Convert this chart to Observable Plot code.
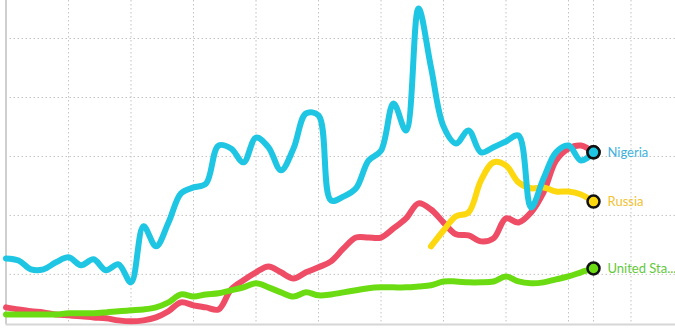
<!DOCTYPE html>
<html>
<head>
<meta charset="utf-8">
<script src="https://cdn.jsdelivr.net/npm/d3@7"></script>
<script src="https://cdn.jsdelivr.net/npm/@observablehq/plot@0.6"></script>
<style>
  html, body { margin: 0; padding: 0; background: #fff; }
  #chart svg { display: block; }
</style>
</head>
<body>
<div id="chart"></div>
<script>
const years = [1960,1961,1962,1963,1964,1965,1966,1967,1968,1969,
  1970,1971,1972,1973,1974,1975,1976,1977,1978,1979,
  1980,1981,1982,1983,1984,1985,1986,1987,1988,1989,
  1990,1991,1992,1993,1994,1995,1996,1997,1998,1999,
  2000,2001,2002,2003,2004,2005,2006,2007];

const nigeria = [25.4,24.7,21.7,21.7,24.1,25.8,23.1,25.1,21.4,23.4,
  17.3,36.3,29.5,37.6,47.5,49.5,50.8,63.7,62.7,58.0,
  66.4,63.1,55.3,62.7,74.6,73.9,45.1,46.4,49.2,58.6,
  62.0,78.0,68.8,110.2,90.2,70.2,64.4,68.8,61.4,63.1,
  65.1,67.1,42.7,52.5,61.4,63.7,58.6,61.4];

const redSeries = [8.8,8.1,7.5,7.1,6.4,6.1,5.8,5.4,5.1,4.4,
  4.1,4.4,5.4,7.5,10.5,9.5,8.8,8.1,14.9,18.0,
  20.7,22.7,20.7,18.6,20.7,22.4,24.4,28.8,32.5,32.5,
  32.5,35.6,39.0,44.1,42.0,37.6,33.6,33.2,31.2,32.2,
  39.0,37.6,41.0,47.8,58.6,62.7,63.7,61.4];

const usa = [6.4,6.4,6.4,6.4,6.4,6.8,6.8,6.8,7.1,7.5,
  7.8,8.1,8.8,10.5,13.2,12.5,13.2,13.6,14.6,15.6,
  17.0,15.6,13.9,12.5,13.9,12.9,13.2,13.9,14.6,15.3,
  15.6,15.6,15.6,15.9,16.3,17.6,17.6,17.3,17.3,17.6,
  19.3,17.6,17.0,17.3,18.3,19.3,20.7,22.0];

const russiaYears = [1994,1995,1996,1997,1998,1999,2000,2001,2002,2003,2004,2005,2006,2007];
const russia = [29.5,34.9,39.7,41.0,51.9,58.0,56.9,51.2,49.2,49.5,48.1,48.1,47.1,44.7];

const xGridYears = [1965,1970,1975,1980,1985,1990,1995,2000,2005,2007,2010];
const yGridValues = [20,40,60,80,100];

const labelNames = ["Nigeria","Russia","United Sta..."];

const rows = (name, xs, vs) => xs.map((x, i) => ({name, year: x, value: vs[i]}));
const red = rows("red", years, redSeries);
const ng = rows("Nigeria", years, nigeria);
const us = rows("United States", years, usa);
const ru = rows("Russia", russiaYears, russia);

const colors = {red: "#ef4c66", Nigeria: "#1ec6e4", "United States": "#6cdc12", Russia: "#fdd80f"};
const labelColors = {Nigeria: "#3fb3dd", "United States": "#62c93a", Russia: "#f2c233"};

const ends = [red, us, ru, ng].map(s => s[s.length - 1]);
const labels = [
  {name: "Nigeria", text: labelNames[0], year: 2007, value: ng[ng.length-1].value},
  {name: "Russia", text: labelNames[1], year: 2007, value: ru[ru.length-1].value},
  {name: "United States", text: labelNames[2], year: 2007, value: us[us.length-1].value}
];

const lineOpts = (c) => ({x: "year", y: "value", stroke: c, strokeWidth: 6, curve: "catmull-rom", strokeLinecap: "round", strokeLinejoin: "round"});

const chart = Plot.plot({
  width: 675,
  height: 328,
  marginLeft: 5.5,
  marginRight: 0,
  marginTop: 0,
  marginBottom: 4,
  x: {domain: [1960, 2013.56], axis: null},
  y: {domain: [3, 112.9], axis: null},
  style: {background: "#fff", overflow: "visible"},
  marks: [
    Plot.ruleX(xGridYears, {stroke: "#c4c4c4", strokeDasharray: "1.5,2.5", strokeWidth: 1}),
    Plot.ruleY(yGridValues, {stroke: "#c4c4c4", strokeDasharray: "1.5,2.5", strokeWidth: 1}),
    Plot.ruleX([1960], {stroke: "#cfcfcf", strokeWidth: 2}),
    Plot.ruleY([3], {stroke: "#d6d6d6", strokeWidth: 2}),
    Plot.line(red, lineOpts(colors.red)),
    Plot.line(us, lineOpts(colors["United States"])),
    Plot.line(ru, lineOpts(colors.Russia)),
    Plot.line(ng, lineOpts(colors.Nigeria)),
    Plot.dot(ends, {x: "year", y: "value", r: 6, fill: d => colors[d.name], stroke: "#111", strokeWidth: 2.5}),
    Plot.text(labels, {x: "year", y: "value", text: "text", dx: 14, textAnchor: "start", fill: d => labelColors[d.name], fontSize: 13, fontFamily: "Lato, 'Open Sans', sans-serif"})
  ]
});
document.getElementById("chart").appendChild(chart);
</script>
</body>
</html>
